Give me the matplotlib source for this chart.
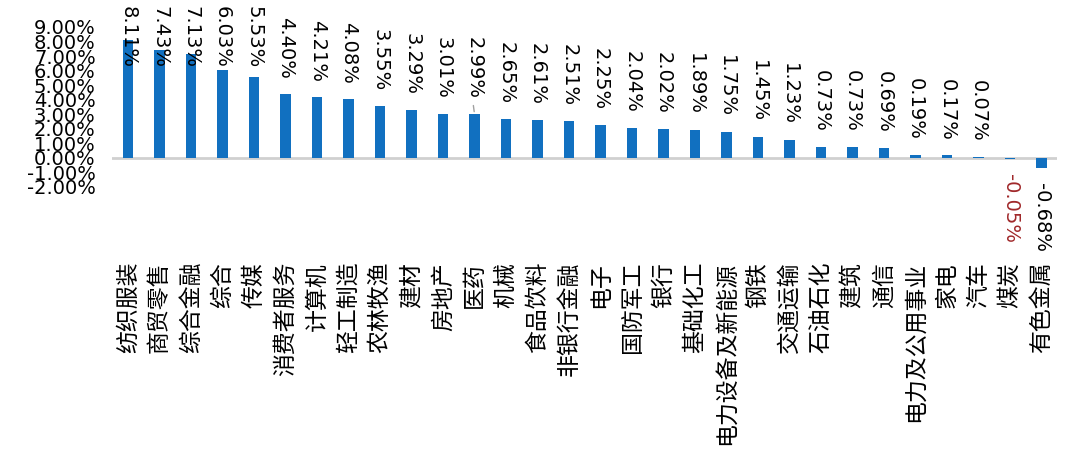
import numpy as np
import matplotlib
matplotlib.use("Agg")
import matplotlib.pyplot as plt
from matplotlib.ticker import FuncFormatter

plt.rcParams['font.family'] = ['Noto Sans CJK SC', 'DejaVu Sans']

# 行业涨跌幅 (%)
industries = ['纺织服装', '商贸零售', '综合金融', '综合', '传媒', '消费者服务', '计算机',
              '轻工制造', '农林牧渔', '建材', '房地产', '医药', '机械', '食品饮料',
              '非银行金融', '电子', '国防军工', '银行', '基础化工', '电力设备及新能源',
              '钢铁', '交通运输', '石油石化', '建筑', '通信', '电力及公用事业', '家电',
              '汽车', '煤炭', '有色金属']
values = [8.11, 7.43, 7.13, 6.03, 5.53, 4.40, 4.21, 4.08, 3.55, 3.29, 3.01, 2.99,
          2.65, 2.61, 2.51, 2.25, 2.04, 2.02, 1.89, 1.75, 1.45, 1.23, 0.73, 0.73,
          0.69, 0.19, 0.17, 0.07, -0.05, -0.68]
yticks = np.arange(-2, 10, 1)

W, H = 1080, 474
fig = plt.figure(figsize=(W / 100, H / 100), dpi=100)
ax = fig.add_axes([0.104, 0.6055, 0.875, 0.3376])

x = np.arange(len(values))
ax.bar(x, values, width=0.33, color='#1170C0', zorder=2)
ax.axhline(0, color='#D0D0D0', lw=2, zorder=1)

ax.set_xlim(-0.5, len(values) - 0.5)
ax.set_ylim(-2, 9)
ax.set_yticks(yticks)
ax.yaxis.set_major_formatter(FuncFormatter(lambda v, p: f'{v:.2f}%'))
ax.tick_params(axis='y', length=0, pad=12, labelsize=14)
for lab in ax.get_yticklabels():
    lab.set_family('DejaVu Sans')

ax.set_xticks(x)
ax.set_xticklabels(industries, rotation=90, fontsize=16.5)
ax.tick_params(axis='x', length=0, pad=54)
for s in ax.spines.values():
    s.set_visible(False)

fig.canvas.draw()
r = fig.canvas.get_renderer()
gap = 15
for i, v in enumerate(values):
    col = '#A0282A' if -0.1 < v < 0 else 'black'
    if v >= 0:
        t = ax.annotate(f'{v:.2f}%', (i, v), xytext=(0, gap), textcoords='offset pixels',
                        rotation=-90, ha='center', va='bottom', fontsize=14,
                        family='DejaVu Sans', color=col, annotation_clip=False)
        bb = t.get_window_extent(r)
        if bb.y1 > H - 6:
            t.xyann = (0, gap - (bb.y1 - (H - 6)))
    else:
        t = ax.annotate(f'{v:.2f}%', (i, v), xytext=(0, -gap), textcoords='offset pixels',
                        rotation=-90, ha='center', va='top', fontsize=14,
                        family='DejaVu Sans', color=col, annotation_clip=False)

# 医药 标签引导线
i = industries.index('医药')
ax.annotate('', (i, values[i]), xytext=(i - 0.05, values[i] + 0.8),
            arrowprops=dict(arrowstyle='-', color='#A0A0A0', lw=1))

fig.savefig('out.png', dpi=100)
